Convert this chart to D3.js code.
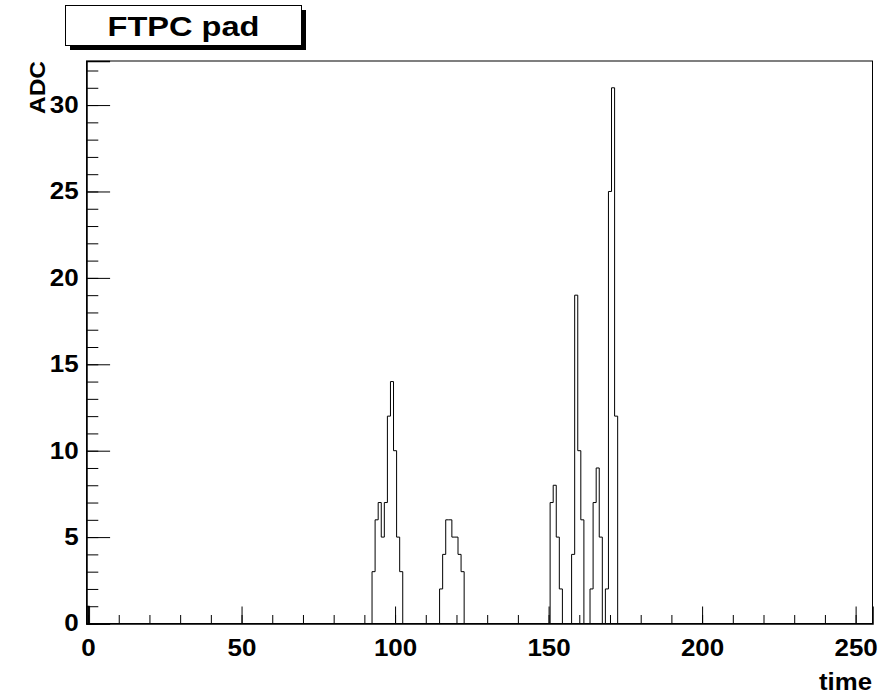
<!DOCTYPE html>
<html>
<head>
<meta charset="utf-8">
<script src="https://cdn.jsdelivr.net/npm/d3@7"></script>
<style>
  body { margin: 0; background: #fff; }
  text { font-family: "Liberation Sans", Arial, Helvetica, sans-serif; font-weight: bold; fill: #000; }
</style>
</head>
<body>
<div id="chart"></div>
<script>
// histogram contents: first bin of each non-empty run, and the counts in that run
var binStart = [0, 93, 115, 151, 158, 164, 169];
var binCounts = [
  [1],
  [3, 6, 7, 5, 7, 12, 14, 10, 5, 3],
  [2, 4, 6, 6, 5, 5, 4, 3],
  [7, 8, 5, 2],
  [4, 19, 10, 6],
  [2, 7, 9, 5],
  [2, 25, 31, 12]
];
var nBins = 256;
var xTicks = [0, 50, 100, 150, 200, 250];
var yTicks = [0, 5, 10, 15, 20, 25, 30];
var yMax = 32.55;

var svgWidth = 881, svgHeight = 698;
var margin = {top: 61, right: 8.5, bottom: 74.5, left: 86.5};
var width = svgWidth - margin.left - margin.right;
var height = svgHeight - margin.top - margin.bottom;

var svg = d3.select("#chart").append("svg")
    .attr("width", svgWidth)
    .attr("height", svgHeight);

// fill all bins (empty ones are 0)
var values = d3.range(nBins).map(function() { return 0; });
binStart.forEach(function(s, k) {
  binCounts[k].forEach(function(v, j) { values[s + j] = v; });
});

var x = d3.scaleLinear().domain([-0.5, nBins - 0.5]).range([0, width]);
var y = d3.scaleLinear().domain([0, yMax]).range([height, 0]);

var g = svg.append("g").attr("transform", "translate(" + margin.left + "," + margin.top + ")");

// frame
g.append("rect")
    .attr("width", width).attr("height", height)
    .attr("fill", "none").attr("stroke", "#000").attr("stroke-width", 1);

// histogram outline
var pts = [[-0.5, 0]];
values.forEach(function(v, i) {
  pts.push([i - 0.5, v]);
  pts.push([i + 0.5, v]);
});
pts.push([nBins - 0.5, 0]);

var line = d3.line()
    .x(function(d) { return x(d[0]); })
    .y(function(d) { return y(d[1]); });

g.append("path")
    .datum(pts)
    .attr("d", line)
    .attr("fill", "none")
    .attr("stroke", "#000")
    .attr("stroke-width", 1);

var sx = 1.13; // glyphs in the reference are a bit wider than Arial

// x axis: major + minor ticks pointing inward
var xMinor = g.append("g")
    .attr("transform", "translate(0," + height + ")")
    .call(d3.axisBottom(x).tickValues(d3.range(0, 256, 10)).tickSize(-8.5).tickFormat(""));
xMinor.select(".domain").remove();

var xAxis = g.append("g")
    .attr("transform", "translate(0," + height + ")")
    .call(d3.axisBottom(x).tickValues(xTicks).tickSize(-17).tickPadding(16).tickFormat(d3.format("d")));
xAxis.select(".domain").attr("stroke-width", 1.5);
xAxis.selectAll("text")
    .attr("font-size", 23)
    .attr("transform", "scale(" + sx + ",1)");

// y axis
var yMinor = g.append("g")
    .call(d3.axisLeft(y).tickValues(d3.range(0, 33, 1)).tickSize(-11.8).tickFormat(""));
yMinor.select(".domain").remove();

var yAxis = g.append("g")
    .call(d3.axisLeft(y).tickValues(yTicks).tickSize(-23.6).tickPadding(7).tickFormat(d3.format("d")));
yAxis.select(".domain").attr("stroke-width", 1.5);
yAxis.selectAll("text")
    .attr("font-size", 23)
    .attr("transform", "scale(" + sx + ",1)");

g.selectAll(".tick line").attr("stroke", "#000");

// axis titles
svg.append("text")
    .attr("x", 872).attr("y", 690)
    .attr("text-anchor", "end")
    .attr("font-size", 23)
    .attr("textLength", 53)
    .attr("lengthAdjust", "spacingAndGlyphs")
    .text("time");

svg.append("text")
    .attr("transform", "translate(45,61) rotate(-90)")
    .attr("text-anchor", "end")
    .attr("font-size", 22.5)
    .attr("textLength", 53)
    .attr("lengthAdjust", "spacingAndGlyphs")
    .text("ADC");

// title box with shadow
svg.append("rect")
    .attr("x", 70).attr("y", 10).attr("width", 236).attr("height", 40)
    .attr("fill", "#000");
svg.append("rect")
    .attr("x", 65.5).attr("y", 5.5).attr("width", 236).attr("height", 40)
    .attr("fill", "#fff").attr("stroke", "#000").attr("stroke-width", 1);
svg.append("text")
    .attr("x", 183.5).attr("y", 36)
    .attr("text-anchor", "middle")
    .attr("font-size", 28)
    .attr("textLength", 152)
    .attr("lengthAdjust", "spacingAndGlyphs")
    .text("FTPC pad");
</script>
</body>
</html>
